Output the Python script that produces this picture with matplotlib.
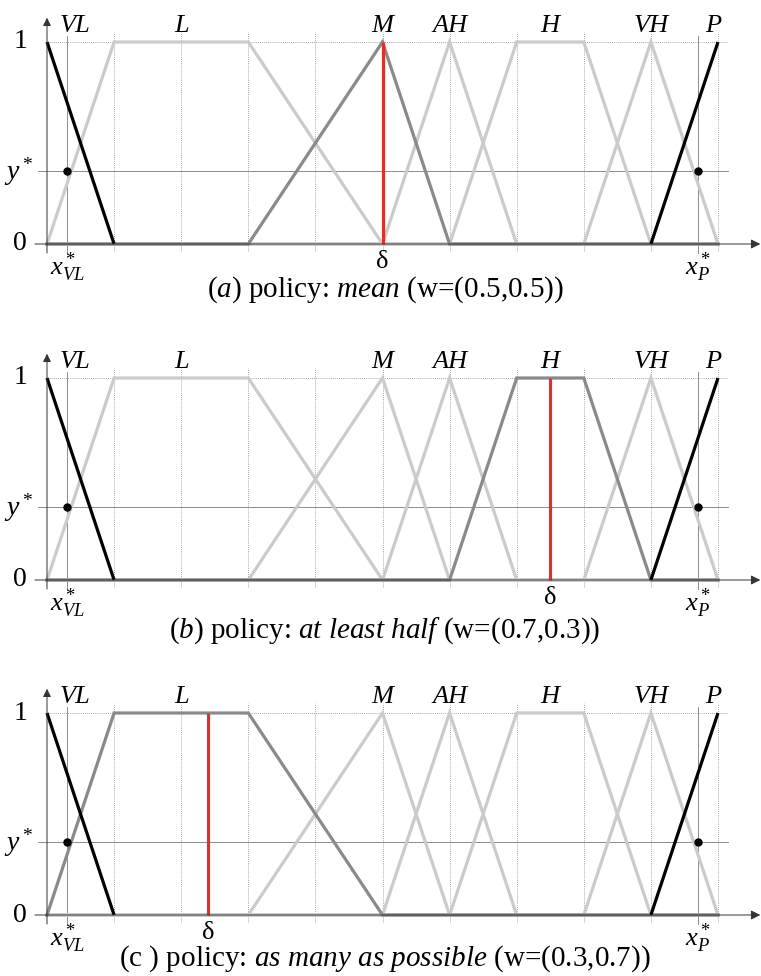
import numpy as np
import matplotlib.pyplot as plt

plt.rcParams['font.family'] = ['Liberation Serif', 'DejaVu Serif']
plt.rcParams['mathtext.fontset'] = 'custom'
plt.rcParams['mathtext.rm'] = 'Liberation Serif'
plt.rcParams['mathtext.it'] = 'Liberation Serif:italic'
plt.rcParams['mathtext.bf'] = 'Liberation Serif:bold'

# linguistic terms on the [0, 10] universe (vertices of each membership function)
terms = ['VL', 'L', 'M', 'AH', 'H', 'VH', 'P']
term_x = [[0, 1], [0, 1, 3, 5], [3, 5, 6], [5, 6, 7], [6, 7, 8, 9], [8, 9, 10], [9, 10]]
term_y = [[1, 0], [0, 1, 1, 0], [0, 1, 0], [0, 1, 0], [0, 1, 1, 0], [0, 1, 0], [0, 1]]
label_x = [0.42, 2, 5, 6, 7.5, 9, 9.93]

y_star = 0.36
x_vl_star = 0.3
x_p_star = 9.7

# one panel per aggregation policy
tags = [r'($a$)', r'($b$)', '(c )']
policies = ['mean', 'at least half', 'as many as possible']
weights = [(0.5, 0.5), (0.7, 0.3), (0.3, 0.7)]
chosen = ['M', 'H', 'L']
deltas = [5.0, 7.5, 2.4]

# baseline of each panel (pixels from top) and caption offset below it
baselines = [244, 580, 915]
caption_y = [-0.228, -0.25, -0.218]

W, H = 761, 976
fig = plt.figure(figsize=(W / 100, H / 100), dpi=100)

light = '#cbcbcb'
dark = '#8a8a8a'
thin = '#7a7a7a'
lw = 2.3

for k in range(3):
    b = baselines[k]
    ax = fig.add_axes([47 / W, (H - b) / H, 671 / W, 202 / H])
    ax.set_xlim(0, 10)
    ax.set_ylim(0, 1)
    ax.axis('off')

    # dotted grid
    for gx in range(1, 11):
        ax.plot([gx, gx], [-0.035, 1.05], color='#8c8c8c', lw=0.6,
                ls=(0, (1, 1.5)), zorder=1, clip_on=False)
    ax.plot([0, 10.15], [1, 1], color='#8c8c8c', lw=0.6,
            ls=(0, (1, 1.5)), zorder=1, clip_on=False)

    # y* level and the two x* positions
    ax.plot([-0.13, 10.15], [y_star, y_star], color=thin, lw=0.6, zorder=2, clip_on=False)
    for xs in (x_vl_star, x_p_star):
        ax.plot([xs, xs], [-0.045, 1.03], color=thin, lw=0.6, zorder=2, clip_on=False)

    # membership functions
    for name, xs, ys in zip(terms, term_x, term_y):
        if name in ('VL', 'P'):
            ax.plot(xs, ys, color='black', lw=lw, zorder=5,
                    solid_capstyle='butt', clip_on=False)
            continue
        fx = [0] + xs + [10]
        fy = [0] + ys + [0]
        sel = name == chosen[k]
        ax.plot(fx, fy, color=dark if sel else light, lw=lw,
                zorder=4 if sel else 3, solid_joinstyle='miter', clip_on=False)

    # defuzzified value
    sel = terms.index(chosen[k])
    top = np.interp(deltas[k], term_x[sel], term_y[sel])
    ax.plot([deltas[k], deltas[k]], [0, top], color='#e0302b', lw=lw,
            zorder=6, solid_capstyle='butt', clip_on=False)
    ax.text(deltas[k], -0.09, 'δ', ha='center', va='center', fontsize=19)

    # intersection points
    ax.plot([x_vl_star, x_p_star], [y_star, y_star], 'o', color='black',
            ms=5, zorder=8, clip_on=False)

    # axes with arrow heads
    ax.annotate('', xy=(10.63, 0), xytext=(-0.18, 0), annotation_clip=False,
                arrowprops=dict(arrowstyle='-|>', color='#333333', lw=0.7,
                                mutation_scale=14, shrinkA=0, shrinkB=0), zorder=7)
    ax.annotate('', xy=(0, 1.12), xytext=(0, -0.045), annotation_clip=False,
                arrowprops=dict(arrowstyle='-|>', color='#333333', lw=0.7,
                                mutation_scale=12, shrinkA=0, shrinkB=0), zorder=7)

    # labels
    for name, lx in zip(terms, label_x):
        ax.text(lx, 1.08, name, style='italic', ha='center', va='center', fontsize=19)
    ax.text(-0.4, 1, '1', ha='center', va='center', fontsize=20)
    ax.text(-0.4, 0, '0', ha='center', va='center', fontsize=20)
    ax.text(-0.42, y_star, r'$y^*$', ha='center', va='center', fontsize=20)
    ax.text(x_vl_star, -0.115, r'$x^*_{VL}$', ha='center', va='center', fontsize=19)
    ax.text(x_p_star, -0.115, r'$x^*_{P}$', ha='center', va='center', fontsize=19)

    words = ' '.join('$%s$' % w for w in policies[k].split())
    caption = '{} policy: {} (w=({},{}))'.format(tags[k], words, *weights[k])
    ax.text(5.04, caption_y[k], caption, ha='center', va='center', fontsize=21)

fig.savefig('out.png', dpi=100)
